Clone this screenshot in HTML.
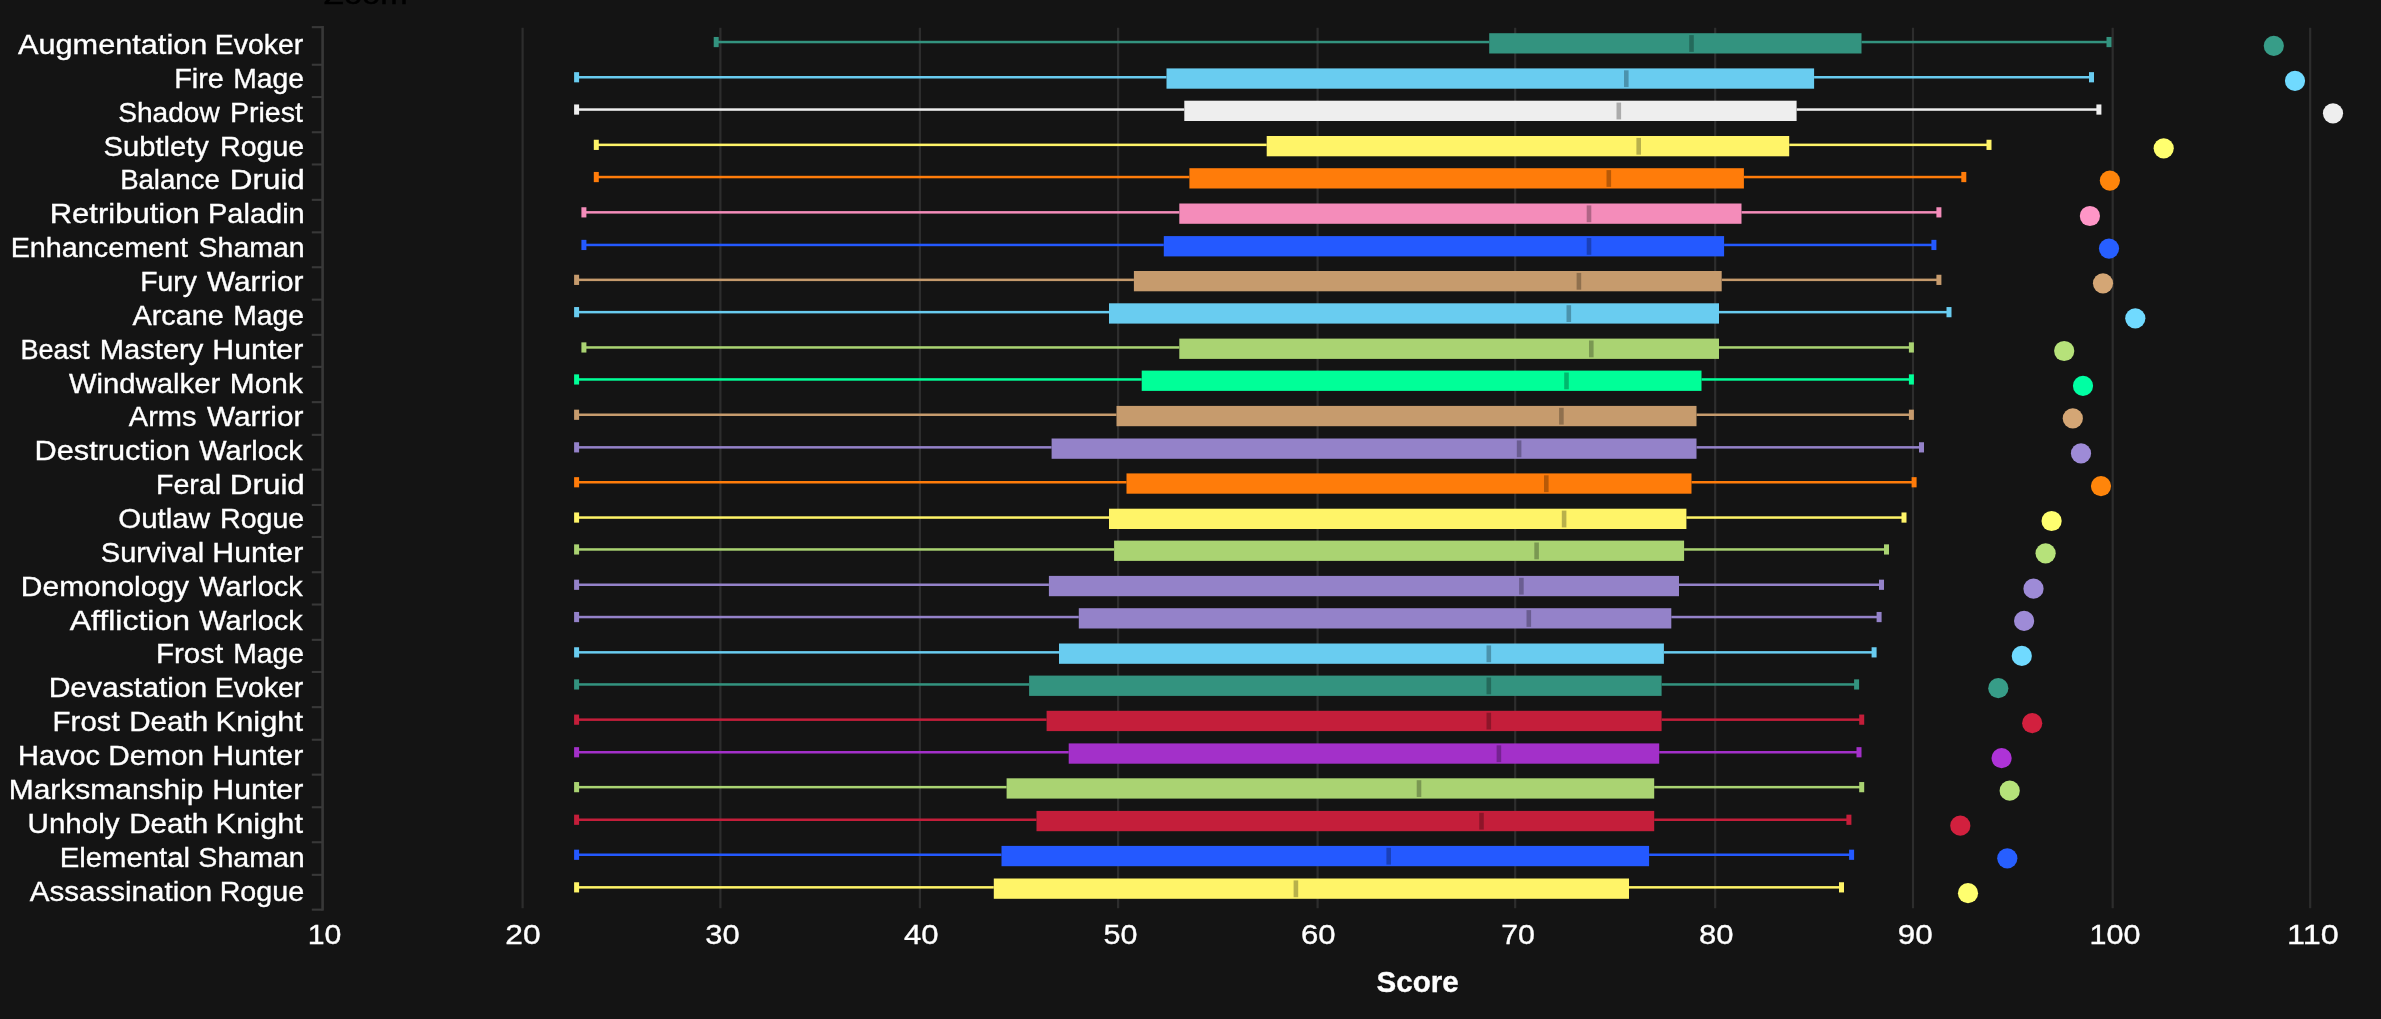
<!DOCTYPE html><html><head><meta charset="utf-8"><title>Score</title><style>html,body{margin:0;padding:0;background:#141414;overflow:hidden}svg{display:block}text{font-family:"Liberation Sans",sans-serif;fill:#fff;stroke:#fff;stroke-width:0.35px}</style></head><body>
<svg width="2381" height="1019" viewBox="0 0 2381 1019">
<defs><filter id="tf" x="0" y="0" width="2381" height="1019" filterUnits="userSpaceOnUse"><feGaussianBlur stdDeviation="0.3"/></filter></defs>
<rect width="2381" height="1019" fill="#141414"/>
<rect x="521.5" y="27.8" width="2.2" height="880.4" fill="#2d2d2d"/>
<rect x="719.3" y="27.8" width="2.2" height="880.4" fill="#2d2d2d"/>
<rect x="918.8" y="27.8" width="2.2" height="880.4" fill="#2d2d2d"/>
<rect x="1117.0" y="27.8" width="2.2" height="880.4" fill="#2d2d2d"/>
<rect x="1316.5" y="27.8" width="2.2" height="880.4" fill="#2d2d2d"/>
<rect x="1514.1" y="27.8" width="2.2" height="880.4" fill="#2d2d2d"/>
<rect x="1714.1" y="27.8" width="2.2" height="880.4" fill="#2d2d2d"/>
<rect x="1911.9" y="27.8" width="2.2" height="880.4" fill="#2d2d2d"/>
<rect x="2111.6" y="27.8" width="2.2" height="880.4" fill="#2d2d2d"/>
<rect x="2309.1" y="27.8" width="2.2" height="880.4" fill="#2d2d2d"/>
<rect x="321.3" y="26" width="2.6" height="884.6" fill="#383838"/>
<rect x="311.8" y="26.1" width="11" height="2.1" fill="#383838"/>
<rect x="311.8" y="63.7" width="11" height="2.1" fill="#383838"/>
<rect x="311.8" y="96.0" width="11" height="2.1" fill="#383838"/>
<rect x="311.8" y="131.2" width="11" height="2.1" fill="#383838"/>
<rect x="311.8" y="163.4" width="11" height="2.1" fill="#383838"/>
<rect x="311.8" y="198.8" width="11" height="2.1" fill="#383838"/>
<rect x="311.8" y="231.3" width="11" height="2.1" fill="#383838"/>
<rect x="311.8" y="266.2" width="11" height="2.1" fill="#383838"/>
<rect x="311.8" y="298.6" width="11" height="2.1" fill="#383838"/>
<rect x="311.8" y="333.8" width="11" height="2.1" fill="#383838"/>
<rect x="311.8" y="365.8" width="11" height="2.1" fill="#383838"/>
<rect x="311.8" y="401.1" width="11" height="2.1" fill="#383838"/>
<rect x="311.8" y="433.8" width="11" height="2.1" fill="#383838"/>
<rect x="311.8" y="468.6" width="11" height="2.1" fill="#383838"/>
<rect x="311.8" y="503.9" width="11" height="2.1" fill="#383838"/>
<rect x="311.8" y="535.9" width="11" height="2.1" fill="#383838"/>
<rect x="311.8" y="571.2" width="11" height="2.1" fill="#383838"/>
<rect x="311.8" y="603.5" width="11" height="2.1" fill="#383838"/>
<rect x="311.8" y="638.8" width="11" height="2.1" fill="#383838"/>
<rect x="311.8" y="670.9" width="11" height="2.1" fill="#383838"/>
<rect x="311.8" y="706.1" width="11" height="2.1" fill="#383838"/>
<rect x="311.8" y="738.7" width="11" height="2.1" fill="#383838"/>
<rect x="311.8" y="773.6" width="11" height="2.1" fill="#383838"/>
<rect x="311.8" y="806.2" width="11" height="2.1" fill="#383838"/>
<rect x="311.8" y="841.2" width="11" height="2.1" fill="#383838"/>
<rect x="311.8" y="873.8" width="11" height="2.1" fill="#383838"/>
<rect x="311.8" y="908.6" width="11" height="2.1" fill="#383838"/>
<rect x="716.2" y="40.80" width="773.0" height="2.5" fill="#33937F"/>
<rect x="1861.5" y="40.80" width="247.5" height="2.5" fill="#33937F"/>
<rect x="713.7" y="36.95" width="5" height="10.2" fill="#33937F"/>
<rect x="2106.5" y="36.95" width="5" height="10.2" fill="#33937F"/>
<rect x="1489.2" y="33.20" width="372.3" height="20.3" fill="#33937F"/>
<rect x="1689.2" y="35.10" width="4.6" height="16.8" fill="#000" fill-opacity="0.28"/>
<circle cx="2273.8" cy="45.8" r="10.1" fill="#379D88"/>
<rect x="576.6" y="76.00" width="589.9" height="2.5" fill="#69CCF0"/>
<rect x="1814.1" y="76.00" width="277.4" height="2.5" fill="#69CCF0"/>
<rect x="574.1" y="72.15" width="5" height="10.2" fill="#69CCF0"/>
<rect x="2089.0" y="72.15" width="5" height="10.2" fill="#69CCF0"/>
<rect x="1166.5" y="68.40" width="647.6" height="20.3" fill="#69CCF0"/>
<rect x="1624.0" y="70.30" width="4.6" height="16.8" fill="#000" fill-opacity="0.28"/>
<circle cx="2295.0" cy="80.8" r="10.1" fill="#70DAFF"/>
<rect x="576.6" y="108.30" width="607.7" height="2.5" fill="#EEEEEE"/>
<rect x="1796.6" y="108.30" width="302.3" height="2.5" fill="#EEEEEE"/>
<rect x="574.1" y="104.45" width="5" height="10.2" fill="#EEEEEE"/>
<rect x="2096.4" y="104.45" width="5" height="10.2" fill="#EEEEEE"/>
<rect x="1184.3" y="100.70" width="612.3" height="20.3" fill="#EEEEEE"/>
<rect x="1616.5" y="102.60" width="4.6" height="16.8" fill="#000" fill-opacity="0.28"/>
<circle cx="2333.0" cy="113.3" r="10.1" fill="#EEEEEE"/>
<rect x="596.3" y="143.60" width="670.4" height="2.5" fill="#FFF468"/>
<rect x="1789.2" y="143.60" width="199.8" height="2.5" fill="#FFF468"/>
<rect x="593.8" y="139.75" width="5" height="10.2" fill="#FFF468"/>
<rect x="1986.5" y="139.75" width="5" height="10.2" fill="#FFF468"/>
<rect x="1266.7" y="136.00" width="522.5" height="20.3" fill="#FFF468"/>
<rect x="1636.4" y="137.90" width="4.6" height="16.8" fill="#000" fill-opacity="0.28"/>
<circle cx="2163.7" cy="148.3" r="10.1" fill="#FFFF6F"/>
<rect x="596.3" y="175.80" width="593.1" height="2.5" fill="#FF7C0A"/>
<rect x="1743.9" y="175.80" width="219.9" height="2.5" fill="#FF7C0A"/>
<rect x="593.8" y="171.95" width="5" height="10.2" fill="#FF7C0A"/>
<rect x="1961.3" y="171.95" width="5" height="10.2" fill="#FF7C0A"/>
<rect x="1189.4" y="168.20" width="554.5" height="20.3" fill="#FF7C0A"/>
<rect x="1606.5" y="170.10" width="4.6" height="16.8" fill="#000" fill-opacity="0.28"/>
<circle cx="2109.9" cy="180.6" r="10.1" fill="#FF850B"/>
<rect x="583.9" y="211.10" width="595.4" height="2.5" fill="#F48CBA"/>
<rect x="1741.5" y="211.10" width="197.4" height="2.5" fill="#F48CBA"/>
<rect x="581.4" y="207.25" width="5" height="10.2" fill="#F48CBA"/>
<rect x="1936.4" y="207.25" width="5" height="10.2" fill="#F48CBA"/>
<rect x="1179.3" y="203.50" width="562.2" height="20.3" fill="#F48CBA"/>
<rect x="1586.7" y="205.40" width="4.6" height="16.8" fill="#000" fill-opacity="0.28"/>
<circle cx="2089.9" cy="216.0" r="10.1" fill="#FF96C7"/>
<rect x="583.9" y="243.70" width="579.9" height="2.5" fill="#2459FF"/>
<rect x="1724.1" y="243.70" width="209.8" height="2.5" fill="#2459FF"/>
<rect x="581.4" y="239.85" width="5" height="10.2" fill="#2459FF"/>
<rect x="1931.4" y="239.85" width="5" height="10.2" fill="#2459FF"/>
<rect x="1163.8" y="236.10" width="560.3" height="20.3" fill="#2459FF"/>
<rect x="1586.7" y="238.00" width="4.6" height="16.8" fill="#000" fill-opacity="0.28"/>
<circle cx="2109.0" cy="248.6" r="10.1" fill="#275FFF"/>
<rect x="576.6" y="278.60" width="557.3" height="2.5" fill="#C69B6D"/>
<rect x="1721.7" y="278.60" width="217.2" height="2.5" fill="#C69B6D"/>
<rect x="574.1" y="274.75" width="5" height="10.2" fill="#C69B6D"/>
<rect x="1936.4" y="274.75" width="5" height="10.2" fill="#C69B6D"/>
<rect x="1133.9" y="271.00" width="587.8" height="20.3" fill="#C69B6D"/>
<rect x="1576.6" y="272.90" width="4.6" height="16.8" fill="#000" fill-opacity="0.28"/>
<circle cx="2103.0" cy="283.3" r="10.1" fill="#D4A675"/>
<rect x="576.6" y="310.90" width="532.4" height="2.5" fill="#69CCF0"/>
<rect x="1719.0" y="310.90" width="230.0" height="2.5" fill="#69CCF0"/>
<rect x="574.1" y="307.05" width="5" height="10.2" fill="#69CCF0"/>
<rect x="1946.5" y="307.05" width="5" height="10.2" fill="#69CCF0"/>
<rect x="1109.0" y="303.30" width="610.0" height="20.3" fill="#69CCF0"/>
<rect x="1566.5" y="305.20" width="4.6" height="16.8" fill="#000" fill-opacity="0.28"/>
<circle cx="2135.3" cy="318.3" r="10.1" fill="#70DAFF"/>
<rect x="583.9" y="346.20" width="595.4" height="2.5" fill="#AAD372"/>
<rect x="1719.0" y="346.20" width="192.4" height="2.5" fill="#AAD372"/>
<rect x="581.4" y="342.35" width="5" height="10.2" fill="#AAD372"/>
<rect x="1908.9" y="342.35" width="5" height="10.2" fill="#AAD372"/>
<rect x="1179.3" y="338.60" width="539.7" height="20.3" fill="#AAD372"/>
<rect x="1589.0" y="340.50" width="4.6" height="16.8" fill="#000" fill-opacity="0.28"/>
<circle cx="2064.2" cy="351.0" r="10.1" fill="#B6E27A"/>
<rect x="576.6" y="378.20" width="565.1" height="2.5" fill="#00FF98"/>
<rect x="1701.5" y="378.20" width="209.9" height="2.5" fill="#00FF98"/>
<rect x="574.1" y="374.35" width="5" height="10.2" fill="#00FF98"/>
<rect x="1908.9" y="374.35" width="5" height="10.2" fill="#00FF98"/>
<rect x="1141.7" y="370.60" width="559.8" height="20.3" fill="#00FF98"/>
<rect x="1564.2" y="372.50" width="4.6" height="16.8" fill="#000" fill-opacity="0.28"/>
<circle cx="2083.0" cy="385.8" r="10.1" fill="#00FFA3"/>
<rect x="576.6" y="413.50" width="539.9" height="2.5" fill="#C69B6D"/>
<rect x="1696.5" y="413.50" width="214.9" height="2.5" fill="#C69B6D"/>
<rect x="574.1" y="409.65" width="5" height="10.2" fill="#C69B6D"/>
<rect x="1908.9" y="409.65" width="5" height="10.2" fill="#C69B6D"/>
<rect x="1116.5" y="405.90" width="580.0" height="20.3" fill="#C69B6D"/>
<rect x="1559.1" y="407.80" width="4.6" height="16.8" fill="#000" fill-opacity="0.28"/>
<circle cx="2072.8" cy="418.4" r="10.1" fill="#D4A675"/>
<rect x="576.6" y="446.10" width="475.0" height="2.5" fill="#9482C9"/>
<rect x="1696.5" y="446.10" width="225.0" height="2.5" fill="#9482C9"/>
<rect x="574.1" y="442.25" width="5" height="10.2" fill="#9482C9"/>
<rect x="1919.0" y="442.25" width="5" height="10.2" fill="#9482C9"/>
<rect x="1051.6" y="438.50" width="644.9" height="20.3" fill="#9482C9"/>
<rect x="1516.8" y="440.40" width="4.6" height="16.8" fill="#000" fill-opacity="0.28"/>
<circle cx="2081.0" cy="453.4" r="10.1" fill="#9E8BD7"/>
<rect x="576.6" y="481.00" width="549.9" height="2.5" fill="#FF7C0A"/>
<rect x="1691.5" y="481.00" width="222.6" height="2.5" fill="#FF7C0A"/>
<rect x="574.1" y="477.15" width="5" height="10.2" fill="#FF7C0A"/>
<rect x="1911.6" y="477.15" width="5" height="10.2" fill="#FF7C0A"/>
<rect x="1126.5" y="473.40" width="565.0" height="20.3" fill="#FF7C0A"/>
<rect x="1544.0" y="475.30" width="4.6" height="16.8" fill="#000" fill-opacity="0.28"/>
<circle cx="2101.0" cy="486.1" r="10.1" fill="#FF850B"/>
<rect x="576.6" y="516.30" width="532.4" height="2.5" fill="#FFF468"/>
<rect x="1686.4" y="516.30" width="217.6" height="2.5" fill="#FFF468"/>
<rect x="574.1" y="512.45" width="5" height="10.2" fill="#FFF468"/>
<rect x="1901.5" y="512.45" width="5" height="10.2" fill="#FFF468"/>
<rect x="1109.0" y="508.70" width="577.4" height="20.3" fill="#FFF468"/>
<rect x="1561.8" y="510.60" width="4.6" height="16.8" fill="#000" fill-opacity="0.28"/>
<circle cx="2051.6" cy="521.0" r="10.1" fill="#FFFF6F"/>
<rect x="576.6" y="548.20" width="537.5" height="2.5" fill="#AAD372"/>
<rect x="1684.1" y="548.20" width="202.4" height="2.5" fill="#AAD372"/>
<rect x="574.1" y="544.35" width="5" height="10.2" fill="#AAD372"/>
<rect x="1884.0" y="544.35" width="5" height="10.2" fill="#AAD372"/>
<rect x="1114.1" y="540.60" width="570.0" height="20.3" fill="#AAD372"/>
<rect x="1534.3" y="542.50" width="4.6" height="16.8" fill="#000" fill-opacity="0.28"/>
<circle cx="2045.6" cy="553.3" r="10.1" fill="#B6E27A"/>
<rect x="576.6" y="583.50" width="472.3" height="2.5" fill="#9482C9"/>
<rect x="1679.0" y="583.50" width="202.5" height="2.5" fill="#9482C9"/>
<rect x="574.1" y="579.65" width="5" height="10.2" fill="#9482C9"/>
<rect x="1879.0" y="579.65" width="5" height="10.2" fill="#9482C9"/>
<rect x="1048.9" y="575.90" width="630.1" height="20.3" fill="#9482C9"/>
<rect x="1519.1" y="577.80" width="4.6" height="16.8" fill="#000" fill-opacity="0.28"/>
<circle cx="2033.5" cy="588.7" r="10.1" fill="#9E8BD7"/>
<rect x="576.6" y="615.80" width="502.2" height="2.5" fill="#9482C9"/>
<rect x="1671.3" y="615.80" width="207.8" height="2.5" fill="#9482C9"/>
<rect x="574.1" y="611.95" width="5" height="10.2" fill="#9482C9"/>
<rect x="1876.6" y="611.95" width="5" height="10.2" fill="#9482C9"/>
<rect x="1078.8" y="608.20" width="592.5" height="20.3" fill="#9482C9"/>
<rect x="1526.5" y="610.10" width="4.6" height="16.8" fill="#000" fill-opacity="0.28"/>
<circle cx="2024.1" cy="620.9" r="10.1" fill="#9E8BD7"/>
<rect x="576.6" y="651.10" width="482.4" height="2.5" fill="#69CCF0"/>
<rect x="1663.9" y="651.10" width="210.2" height="2.5" fill="#69CCF0"/>
<rect x="574.1" y="647.25" width="5" height="10.2" fill="#69CCF0"/>
<rect x="1871.6" y="647.25" width="5" height="10.2" fill="#69CCF0"/>
<rect x="1059.0" y="643.50" width="604.9" height="20.3" fill="#69CCF0"/>
<rect x="1486.5" y="645.40" width="4.6" height="16.8" fill="#000" fill-opacity="0.28"/>
<circle cx="2021.8" cy="655.9" r="10.1" fill="#70DAFF"/>
<rect x="576.6" y="683.20" width="452.5" height="2.5" fill="#33937F"/>
<rect x="1661.6" y="683.20" width="195.0" height="2.5" fill="#33937F"/>
<rect x="574.1" y="679.35" width="5" height="10.2" fill="#33937F"/>
<rect x="1854.1" y="679.35" width="5" height="10.2" fill="#33937F"/>
<rect x="1029.1" y="675.60" width="632.5" height="20.3" fill="#33937F"/>
<rect x="1486.5" y="677.50" width="4.6" height="16.8" fill="#000" fill-opacity="0.28"/>
<circle cx="1998.3" cy="688.2" r="10.1" fill="#379D88"/>
<rect x="576.6" y="718.40" width="470.0" height="2.5" fill="#C41E3A"/>
<rect x="1661.6" y="718.40" width="200.1" height="2.5" fill="#C41E3A"/>
<rect x="574.1" y="714.55" width="5" height="10.2" fill="#C41E3A"/>
<rect x="1859.2" y="714.55" width="5" height="10.2" fill="#C41E3A"/>
<rect x="1046.6" y="710.80" width="615.0" height="20.3" fill="#C41E3A"/>
<rect x="1486.5" y="712.70" width="4.6" height="16.8" fill="#000" fill-opacity="0.28"/>
<circle cx="2032.2" cy="723.2" r="10.1" fill="#D2203E"/>
<rect x="576.6" y="751.00" width="492.1" height="2.5" fill="#A330C9"/>
<rect x="1659.2" y="751.00" width="199.8" height="2.5" fill="#A330C9"/>
<rect x="574.1" y="747.15" width="5" height="10.2" fill="#A330C9"/>
<rect x="1856.5" y="747.15" width="5" height="10.2" fill="#A330C9"/>
<rect x="1068.7" y="743.40" width="590.5" height="20.3" fill="#A330C9"/>
<rect x="1496.6" y="745.30" width="4.6" height="16.8" fill="#000" fill-opacity="0.28"/>
<circle cx="2001.6" cy="758.1" r="10.1" fill="#AE33D7"/>
<rect x="576.6" y="785.90" width="430.0" height="2.5" fill="#AAD372"/>
<rect x="1654.2" y="785.90" width="207.5" height="2.5" fill="#AAD372"/>
<rect x="574.1" y="782.05" width="5" height="10.2" fill="#AAD372"/>
<rect x="1859.2" y="782.05" width="5" height="10.2" fill="#AAD372"/>
<rect x="1006.6" y="778.30" width="647.6" height="20.3" fill="#AAD372"/>
<rect x="1416.7" y="780.20" width="4.6" height="16.8" fill="#000" fill-opacity="0.28"/>
<circle cx="2009.7" cy="790.7" r="10.1" fill="#B6E27A"/>
<rect x="576.6" y="818.50" width="459.9" height="2.5" fill="#C41E3A"/>
<rect x="1654.2" y="818.50" width="194.7" height="2.5" fill="#C41E3A"/>
<rect x="574.1" y="814.65" width="5" height="10.2" fill="#C41E3A"/>
<rect x="1846.4" y="814.65" width="5" height="10.2" fill="#C41E3A"/>
<rect x="1036.5" y="810.90" width="617.7" height="20.3" fill="#C41E3A"/>
<rect x="1479.2" y="812.80" width="4.6" height="16.8" fill="#000" fill-opacity="0.28"/>
<circle cx="1960.3" cy="825.7" r="10.1" fill="#D2203E"/>
<rect x="576.6" y="853.50" width="424.9" height="2.5" fill="#2459FF"/>
<rect x="1649.1" y="853.50" width="202.5" height="2.5" fill="#2459FF"/>
<rect x="574.1" y="849.65" width="5" height="10.2" fill="#2459FF"/>
<rect x="1849.1" y="849.65" width="5" height="10.2" fill="#2459FF"/>
<rect x="1001.5" y="845.90" width="647.6" height="20.3" fill="#2459FF"/>
<rect x="1386.4" y="847.80" width="4.6" height="16.8" fill="#000" fill-opacity="0.28"/>
<circle cx="2007.3" cy="858.3" r="10.1" fill="#275FFF"/>
<rect x="576.6" y="886.10" width="417.2" height="2.5" fill="#FFF468"/>
<rect x="1629.0" y="886.10" width="212.5" height="2.5" fill="#FFF468"/>
<rect x="574.1" y="882.25" width="5" height="10.2" fill="#FFF468"/>
<rect x="1839.0" y="882.25" width="5" height="10.2" fill="#FFF468"/>
<rect x="993.8" y="878.50" width="635.2" height="20.3" fill="#FFF468"/>
<rect x="1293.6" y="880.40" width="4.6" height="16.8" fill="#000" fill-opacity="0.28"/>
<circle cx="1968.0" cy="893.2" r="10.1" fill="#FFFF6F"/>
<g filter="url(#tf)"><text transform="translate(323.87,4.00) scale(1.2135,1)" font-size="27.0" style="fill:#030303;stroke:#030303;stroke-width:0.45px">Zoom</text><text transform="translate(18.00,53.90) scale(1.1165,1)" font-size="27.5">Augmentation</text><text transform="translate(214.67,53.90) scale(1.0360,1)" font-size="27.5">Evoker</text><text transform="translate(174.14,87.77) scale(1.0510,1)" font-size="27.5">Fire</text><text transform="translate(233.28,87.77) scale(1.0304,1)" font-size="27.5">Mage</text><text transform="translate(118.29,121.63) scale(1.0206,1)" font-size="27.5">Shadow</text><text transform="translate(229.96,121.63) scale(1.0394,1)" font-size="27.5">Priest</text><text transform="translate(103.54,155.50) scale(1.0598,1)" font-size="27.5">Subtlety</text><text transform="translate(220.07,155.50) scale(1.0380,1)" font-size="27.5">Rogue</text><text transform="translate(120.14,189.36) scale(1.0034,1)" font-size="27.5">Balance</text><text transform="translate(229.73,189.36) scale(1.1436,1)" font-size="27.5">Druid</text><text transform="translate(49.67,223.23) scale(1.1289,1)" font-size="27.5">Retribution</text><text transform="translate(208.03,223.23) scale(1.0544,1)" font-size="27.5">Paladin</text><text transform="translate(10.65,257.09) scale(1.0458,1)" font-size="27.5">Enhancement</text><text transform="translate(198.57,257.09) scale(1.0361,1)" font-size="27.5">Shaman</text><text transform="translate(140.29,290.95) scale(1.0292,1)" font-size="27.5">Fury</text><text transform="translate(206.90,290.95) scale(1.0836,1)" font-size="27.5">Warrior</text><text transform="translate(132.51,324.82) scale(1.0495,1)" font-size="27.5">Arcane</text><text transform="translate(233.28,324.82) scale(1.0304,1)" font-size="27.5">Mage</text><text transform="translate(20.38,358.69) scale(0.9849,1)" font-size="27.5">Beast</text><text transform="translate(99.82,358.69) scale(1.0595,1)" font-size="27.5">Mastery</text><text transform="translate(212.32,358.69) scale(1.1028,1)" font-size="27.5">Hunter</text><text transform="translate(69.00,392.55) scale(1.0644,1)" font-size="27.5">Windwalker</text><text transform="translate(229.86,392.55) scale(1.0855,1)" font-size="27.5">Monk</text><text transform="translate(128.80,426.42) scale(1.0568,1)" font-size="27.5">Arms</text><text transform="translate(206.90,426.42) scale(1.0836,1)" font-size="27.5">Warrior</text><text transform="translate(34.59,460.28) scale(1.1176,1)" font-size="27.5">Destruction</text><text transform="translate(199.31,460.28) scale(1.0532,1)" font-size="27.5">Warlock</text><text transform="translate(155.96,494.14) scale(1.0414,1)" font-size="27.5">Feral</text><text transform="translate(229.73,494.14) scale(1.1436,1)" font-size="27.5">Druid</text><text transform="translate(118.22,528.01) scale(1.0743,1)" font-size="27.5">Outlaw</text><text transform="translate(220.07,528.01) scale(1.0380,1)" font-size="27.5">Rogue</text><text transform="translate(100.74,561.88) scale(1.0577,1)" font-size="27.5">Survival</text><text transform="translate(212.32,561.88) scale(1.1028,1)" font-size="27.5">Hunter</text><text transform="translate(20.85,595.74) scale(1.0903,1)" font-size="27.5">Demonology</text><text transform="translate(199.31,595.74) scale(1.0532,1)" font-size="27.5">Warlock</text><text transform="translate(69.69,629.61) scale(1.1638,1)" font-size="27.5">Affliction</text><text transform="translate(199.31,629.61) scale(1.0532,1)" font-size="27.5">Warlock</text><text transform="translate(155.89,663.47) scale(1.0743,1)" font-size="27.5">Frost</text><text transform="translate(233.28,663.47) scale(1.0304,1)" font-size="27.5">Mage</text><text transform="translate(48.64,697.34) scale(1.0934,1)" font-size="27.5">Devastation</text><text transform="translate(214.67,697.34) scale(1.0360,1)" font-size="27.5">Evoker</text><text transform="translate(52.59,731.20) scale(1.0710,1)" font-size="27.5">Frost</text><text transform="translate(129.18,731.20) scale(1.0765,1)" font-size="27.5">Death</text><text transform="translate(215.58,731.20) scale(1.1213,1)" font-size="27.5">Knight</text><text transform="translate(18.03,765.07) scale(1.0523,1)" font-size="27.5">Havoc</text><text transform="translate(108.37,765.07) scale(1.0803,1)" font-size="27.5">Demon</text><text transform="translate(212.32,765.07) scale(1.1028,1)" font-size="27.5">Hunter</text><text transform="translate(8.75,798.93) scale(1.0892,1)" font-size="27.5">Marksmanship</text><text transform="translate(212.32,798.93) scale(1.1028,1)" font-size="27.5">Hunter</text><text transform="translate(27.53,832.80) scale(1.0771,1)" font-size="27.5">Unholy</text><text transform="translate(129.18,832.80) scale(1.0765,1)" font-size="27.5">Death</text><text transform="translate(215.58,832.80) scale(1.1213,1)" font-size="27.5">Knight</text><text transform="translate(59.71,866.66) scale(1.0655,1)" font-size="27.5">Elemental</text><text transform="translate(198.37,866.66) scale(1.0381,1)" font-size="27.5">Shaman</text><text transform="translate(29.80,900.52) scale(1.0748,1)" font-size="27.5">Assassination</text><text transform="translate(219.65,900.52) scale(1.0432,1)" font-size="27.5">Rogue</text><text transform="translate(307.78,943.70) scale(1.1000,1)" font-size="27.5">10</text><text transform="translate(505.36,943.70) scale(1.1551,1)" font-size="27.5">20</text><text transform="translate(705.32,943.70) scale(1.1227,1)" font-size="27.5">30</text><text transform="translate(903.97,943.70) scale(1.1309,1)" font-size="27.5">40</text><text transform="translate(1103.53,943.70) scale(1.1086,1)" font-size="27.5">50</text><text transform="translate(1301.10,943.70) scale(1.1301,1)" font-size="27.5">60</text><text transform="translate(1501.14,943.70) scale(1.1016,1)" font-size="27.5">70</text><text transform="translate(1698.95,943.70) scale(1.1282,1)" font-size="27.5">80</text><text transform="translate(1897.74,943.70) scale(1.1424,1)" font-size="27.5">90</text><text transform="translate(2089.46,943.70) scale(1.1097,1)" font-size="27.5">100</text><text transform="translate(2287.12,943.70) scale(1.1769,1)" font-size="27.5">110</text><text transform="translate(1376.56,992.20) scale(0.9925,1)" font-size="29.8" font-weight="bold">Score</text></g>
</svg></body></html>
